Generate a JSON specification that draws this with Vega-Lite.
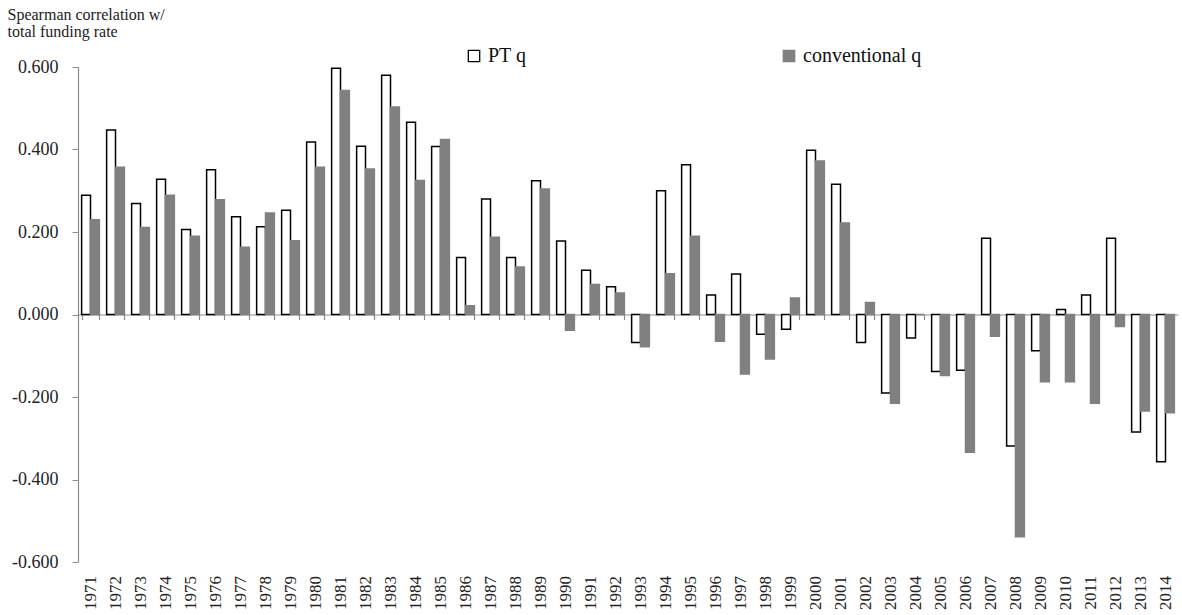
{
  "$schema": "https://vega.github.io/schema/vega-lite/v6.json",
  "width": 1100,
  "height": 495,
  "autosize": {"type": "none"},
  "padding": {"left": 78, "top": 67, "right": 4, "bottom": 53},
  "background": "white",
  "config": {
    "view": {"stroke": null},
    "font": "Liberation Serif",
    "axis": {"grid": false}
  },
  "data": {
    "values": [
      {"year": "1971", "series": "PT q", "value": 0.289}, {"year": "1971", "series": "conventional q", "value": 0.230},
      {"year": "1972", "series": "PT q", "value": 0.447}, {"year": "1972", "series": "conventional q", "value": 0.357},
      {"year": "1973", "series": "PT q", "value": 0.269}, {"year": "1973", "series": "conventional q", "value": 0.211},
      {"year": "1974", "series": "PT q", "value": 0.328}, {"year": "1974", "series": "conventional q", "value": 0.289},
      {"year": "1975", "series": "PT q", "value": 0.206}, {"year": "1975", "series": "conventional q", "value": 0.190},
      {"year": "1976", "series": "PT q", "value": 0.351}, {"year": "1976", "series": "conventional q", "value": 0.278},
      {"year": "1977", "series": "PT q", "value": 0.237}, {"year": "1977", "series": "conventional q", "value": 0.163},
      {"year": "1978", "series": "PT q", "value": 0.213}, {"year": "1978", "series": "conventional q", "value": 0.246},
      {"year": "1979", "series": "PT q", "value": 0.253}, {"year": "1979", "series": "conventional q", "value": 0.179},
      {"year": "1980", "series": "PT q", "value": 0.418}, {"year": "1980", "series": "conventional q", "value": 0.357},
      {"year": "1981", "series": "PT q", "value": 0.597}, {"year": "1981", "series": "conventional q", "value": 0.543},
      {"year": "1982", "series": "PT q", "value": 0.408}, {"year": "1982", "series": "conventional q", "value": 0.353},
      {"year": "1983", "series": "PT q", "value": 0.580}, {"year": "1983", "series": "conventional q", "value": 0.503},
      {"year": "1984", "series": "PT q", "value": 0.466}, {"year": "1984", "series": "conventional q", "value": 0.325},
      {"year": "1985", "series": "PT q", "value": 0.407}, {"year": "1985", "series": "conventional q", "value": 0.424},
      {"year": "1986", "series": "PT q", "value": 0.138}, {"year": "1986", "series": "conventional q", "value": 0.021},
      {"year": "1987", "series": "PT q", "value": 0.280}, {"year": "1987", "series": "conventional q", "value": 0.187},
      {"year": "1988", "series": "PT q", "value": 0.138}, {"year": "1988", "series": "conventional q", "value": 0.115},
      {"year": "1989", "series": "PT q", "value": 0.324}, {"year": "1989", "series": "conventional q", "value": 0.304},
      {"year": "1990", "series": "PT q", "value": 0.178}, {"year": "1990", "series": "conventional q", "value": -0.038},
      {"year": "1991", "series": "PT q", "value": 0.107}, {"year": "1991", "series": "conventional q", "value": 0.073},
      {"year": "1992", "series": "PT q", "value": 0.067}, {"year": "1992", "series": "conventional q", "value": 0.052},
      {"year": "1993", "series": "PT q", "value": -0.068}, {"year": "1993", "series": "conventional q", "value": -0.078},
      {"year": "1994", "series": "PT q", "value": 0.300}, {"year": "1994", "series": "conventional q", "value": 0.099},
      {"year": "1995", "series": "PT q", "value": 0.363}, {"year": "1995", "series": "conventional q", "value": 0.190},
      {"year": "1996", "series": "PT q", "value": 0.047}, {"year": "1996", "series": "conventional q", "value": -0.065},
      {"year": "1997", "series": "PT q", "value": 0.098}, {"year": "1997", "series": "conventional q", "value": -0.144},
      {"year": "1998", "series": "PT q", "value": -0.048}, {"year": "1998", "series": "conventional q", "value": -0.108},
      {"year": "1999", "series": "PT q", "value": -0.036}, {"year": "1999", "series": "conventional q", "value": 0.040},
      {"year": "2000", "series": "PT q", "value": 0.398}, {"year": "2000", "series": "conventional q", "value": 0.372},
      {"year": "2001", "series": "PT q", "value": 0.316}, {"year": "2001", "series": "conventional q", "value": 0.222},
      {"year": "2002", "series": "PT q", "value": -0.068}, {"year": "2002", "series": "conventional q", "value": 0.029},
      {"year": "2003", "series": "PT q", "value": -0.190}, {"year": "2003", "series": "conventional q", "value": -0.215},
      {"year": "2004", "series": "PT q", "value": -0.057}, {"year": "2004", "series": "conventional q", "value": 0.0},
      {"year": "2005", "series": "PT q", "value": -0.138}, {"year": "2005", "series": "conventional q", "value": -0.148},
      {"year": "2006", "series": "PT q", "value": -0.135}, {"year": "2006", "series": "conventional q", "value": -0.334},
      {"year": "2007", "series": "PT q", "value": 0.185}, {"year": "2007", "series": "conventional q", "value": -0.053},
      {"year": "2008", "series": "PT q", "value": -0.319}, {"year": "2008", "series": "conventional q", "value": -0.539},
      {"year": "2009", "series": "PT q", "value": -0.088}, {"year": "2009", "series": "conventional q", "value": -0.163},
      {"year": "2010", "series": "PT q", "value": 0.012}, {"year": "2010", "series": "conventional q", "value": -0.163},
      {"year": "2011", "series": "PT q", "value": 0.047}, {"year": "2011", "series": "conventional q", "value": -0.215},
      {"year": "2012", "series": "PT q", "value": 0.185}, {"year": "2012", "series": "conventional q", "value": -0.029},
      {"year": "2013", "series": "PT q", "value": -0.285}, {"year": "2013", "series": "conventional q", "value": -0.234},
      {"year": "2014", "series": "PT q", "value": -0.357}, {"year": "2014", "series": "conventional q", "value": -0.238}
    ]
  },
  "mark": {"type": "bar", "strokeWidth": 1.5},
  "encoding": {
    "x": {
      "field": "year",
      "type": "nominal",
      "sort": null,
      "scale": {"paddingInner": 0.29, "paddingOuter": 0.145},
      "axis": {
        "title": null,
        "offset": -247.5,
        "domainColor": "#8c8c8c",
        "domainWidth": 1.2,
        "tickColor": "#8c8c8c",
        "tickSize": 5,
        "tickWidth": 1.2,
        "tickBand": "extent",
        "labelAngle": -90,
        "labelPadding": 256,
        "labelFontSize": 17,
        "labelColor": "#222",
        "labelFont": "Liberation Serif"
      }
    },
    "xOffset": {"field": "series", "type": "nominal", "sort": ["PT q", "conventional q"], "scale": {"paddingInner": 0, "paddingOuter": 0}},
    "y": {
      "field": "value",
      "type": "quantitative",
      "scale": {"domain": [-0.6, 0.6], "nice": false, "zero": false},
      "axis": {
        "values": [-0.6, -0.4, -0.2, 0, 0.2, 0.4, 0.6],
        "format": ".3f",
        "labelExpr": "replace(datum.label, '\u2212', '-')",
        "domainColor": "#8c8c8c",
        "domainWidth": 1.2,
        "tickColor": "#8c8c8c",
        "tickSize": 6,
        "labelPadding": 14,
        "labelFontSize": 18,
        "labelColor": "#222",
        "labelFont": "Liberation Serif",
        "title": ["Spearman correlation w/", "total funding rate"],
        "titleAngle": 0,
        "titleAlign": "left",
        "titleBaseline": "top",
        "titleX": -71,
        "titleY": -61,
        "titleFontSize": 16,
        "titleLineHeight": 17,
        "titleFontWeight": "normal",
        "titleColor": "#222",
        "titleFont": "Liberation Serif"
      }
    },
    "fill": {
      "field": "series",
      "type": "nominal",
      "sort": ["PT q", "conventional q"],
      "scale": {"domain": ["PT q", "conventional q"], "range": ["#ffffff", "#808080"]},
      "legend": {
        "title": null,
        "orient": "none",
        "direction": "horizontal",
        "legendX": 386,
        "legendY": -21,
        "padding": 0,
        "columnPadding": 252,
        "symbolType": "square",
        "symbolSize": 130,
        "symbolStrokeWidth": 1.3,
        "labelFontSize": 20,
        "labelFont": "Liberation Serif",
        "labelColor": "#111",
        "labelOffset": 4
      }
    },
    "stroke": {
      "field": "series",
      "type": "nominal",
      "sort": ["PT q", "conventional q"],
      "scale": {"domain": ["PT q", "conventional q"], "range": ["#000000", "#808080"]},
      "legend": null
    }
  }
}
